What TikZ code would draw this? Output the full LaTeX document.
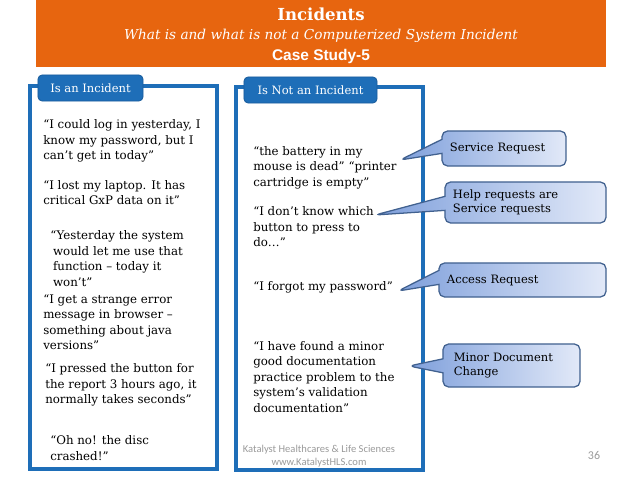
\documentclass[tikz,border=0pt]{standalone}
\usepackage{fontspec}
\setmainfont{DejaVu Serif}
\setsansfont{Liberation Sans}
\newfontfamily\footfont{Carlito}
\usepackage{xcolor}
\usepackage{tikz}
\usetikzlibrary{shapes.callouts}
\definecolor{bannerOrange}{HTML}{E7650F}
\definecolor{frameBlue}{HTML}{1E6EB8}
\definecolor{tabEdge}{HTML}{195C9C}
\definecolor{bubbleEdge}{HTML}{41618F}
\definecolor{bubbleDark}{HTML}{7E9FDB}
\definecolor{bubbleLight}{HTML}{E2E9F8}
\definecolor{footGray}{HTML}{9A9A9A}
\tikzset{
  boxframe/.style={draw=frameBlue, line width=2.8pt},
  tabbox/.style={fill=frameBlue, draw=tabEdge, line width=0.6pt, rounded corners=3pt,
    text=white, font=\fontsize{8.2}{10}\selectfont, minimum height=0.65cm, inner sep=0pt},
  quote/.style={anchor=west, align=left, inner sep=0pt, font=\fontsize{8.4}{11}\selectfont},
  bubble/.style={rectangle callout, rounded corners=4pt, draw=bubbleEdge, line width=0.9pt,
    left color=bubbleDark, right color=bubbleLight, font=\fontsize{8.2}{10}\selectfont,
    align=left, inner xsep=0.2cm, inner ysep=0pt, callout pointer width=0.35cm},
  footer/.style={font=\footfont\fontsize{7.5}{9}\selectfont, text=footGray, inner sep=0pt}
}

\begin{document}
\begin{tikzpicture}[x=0.025cm, y=-0.025cm]
  \useasboundingbox (0,0) rectangle (638,478);

  % banner
  \fill[bannerOrange] (36,0) rectangle (606,67);
  \node[text=white, font=\bfseries\fontsize{11.8}{13}\selectfont] (title) at (321,14) {Incidents};
  \node[text=white, font=\itshape\fontsize{9.7}{11}\selectfont] (subtitle) at (321,36) {What is and what is not a Computerized System Incident};
  \node[text=white, font=\sffamily\bfseries\fontsize{11}{13}\selectfont] (case) at (321,57) {Case Study-5};

  % the two frames
  \draw[boxframe] (30,86) rectangle (217,469);
  \draw[boxframe] (236,87) rectangle (423,470);
  \node[tabbox, minimum width=2.625cm] (isTab) at (90.5,88) {Is an Incident};
  \node[tabbox, minimum width=3.325cm] (notTab) at (310.5,90) {Is Not an Incident};

  % is an incident
  \node[quote] (q1) at (43,141) {“I could log in yesterday, I\\know my password, but I\\can’t get in today”};
  \node[quote] (q2) at (43,192.5) {“I lost my laptop. It has\\critical GxP data on it”};
  \node[quote] (q3) at (50,258.5) {“Yesterday the system\\\hspace{2pt}would let me use that\\\hspace{2pt}function – today it\\\hspace{2pt}won’t”};
  \node[quote] (q4) at (43,322) {“I get a strange error\\message in browser –\\something about java\\versions”};
  \node[quote] (q5) at (45,385) {“I pressed the button for\\the report 3 hours ago, it\\normally takes seconds”};
  \node[quote] (q6) at (50,448) {“Oh no! the disc\\crashed!”};

  % is not an incident
  \node[quote] (n1) at (253,167.5) {“the battery in my\\mouse is dead” “printer\\cartridge is empty”};
  \node[quote] (n2) at (253,227) {“I don’t know which\\button to press to\\do…”};
  \node[quote] (n3) at (253,287) {“I forgot my password”};
  \node[quote] (n4) at (253,377) {“I have found a minor\\good documentation\\practice problem to the\\system’s validation\\documentation”};

  % callouts
  \coordinate (tipService) at (400,160);
  \coordinate (tipHelp) at (375,215);
  \coordinate (tipAccess) at (398,291);
  \coordinate (tipMinor) at (409,366);
  \node[bubble, text width=2.7cm, minimum height=0.875cm, callout absolute pointer={(tipService)}] (service) at (504,148.5) {Service Request};
  \node[bubble, text width=3.625cm, minimum height=1.025cm, callout absolute pointer={(tipHelp)}] (help) at (525.5,202.5) {Help requests are\\Service requests};
  \node[bubble, text width=3.775cm, minimum height=0.85cm, callout absolute pointer={(tipAccess)}] (access) at (522.5,280) {Access Request};
  \node[bubble, text width=3.025cm, minimum height=1.075cm, callout absolute pointer={(tipMinor)}] (minor) at (511.5,365.5) {\hspace{2pt}Minor Document\\\hspace{2pt}Change};

  % footer
  \node[footer] (company) at (319,450) {Katalyst Healthcares \& Life Sciences};
  \node[footer] (web) at (319,463) {www.KatalystHLS.com};
  \node[footer, font=\footfont\fontsize{8.5}{10}\selectfont] (page) at (594,456) {36};
\end{tikzpicture}
\end{document}
